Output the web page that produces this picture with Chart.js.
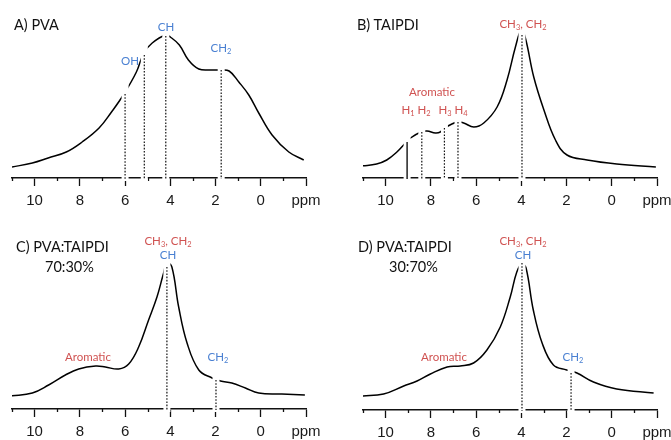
<!DOCTYPE html>
<html>
<head>
<meta charset="utf-8">
<script src="https://cdn.jsdelivr.net/npm/chart.js@4.4.1/dist/chart.umd.min.js"></script>
<style>
  html, body { margin: 0; padding: 0; background: #fff; }
  #wrap { position: relative; width: 671px; height: 440px; overflow: hidden; }
  .panel { position: absolute; }
  .lbl { position: absolute; font-family: Lato, "Open Sans", sans-serif; white-space: nowrap; transform: translate(-50%, -50%); line-height: 1; }
  .lbl sub { font-size: 65%; vertical-align: -0.25em; line-height: 0; }
  .ttl { position: absolute; font-family: Lato, "Open Sans", sans-serif; font-size: 14.5px; color: #111; white-space: nowrap; line-height: 1; }
  .blue { color: #4a80d2; font-size: 11.5px; }
  .red { color: #d05352; font-size: 11.5px; }
</style>
</head>
<body>
<div id="wrap">
  <div class="panel" style="left:0;top:0;width:335px;height:210px"><canvas id="chartA"></canvas></div>
  <div class="panel" style="left:335px;top:0;width:336px;height:210px"><canvas id="chartB"></canvas></div>
  <div class="panel" style="left:0;top:210px;width:335px;height:230px"><canvas id="chartC"></canvas></div>
  <div class="panel" style="left:335px;top:210px;width:336px;height:230px"><canvas id="chartD"></canvas></div>

  <div class="ttl" style="left:14px;top:18px">A) PVA</div>
  <div class="lbl blue" style="left:166px;top:27px">CH</div>
  <div class="lbl blue" style="left:130px;top:61px">OH</div>
  <div class="lbl blue" style="left:221px;top:48px">CH<sub>2</sub></div>

  <div class="ttl" style="left:357px;top:18px">B) TAIPDI</div>
  <div class="lbl red" style="left:523px;top:24px">CH<sub>3</sub>, CH<sub>2</sub></div>
  <div class="lbl red" style="left:432px;top:92px">Aromatic</div>
  <div class="lbl red" style="left:416px;top:110px">H<sub>1</sub> H<sub>2</sub></div>
  <div class="lbl red" style="left:453px;top:110px">H<sub>3</sub> H<sub>4</sub></div>

  <div class="ttl" style="left:16px;top:240px">C) PVA:TAIPDI</div>
  <div class="ttl" style="left:45px;top:260px">70:30%</div>
  <div class="lbl red" style="left:168px;top:241px">CH<sub>3</sub>, CH<sub>2</sub></div>
  <div class="lbl blue" style="left:168px;top:255px">CH</div>
  <div class="lbl red" style="left:88px;top:357px">Aromatic</div>
  <div class="lbl blue" style="left:218px;top:357px">CH<sub>2</sub></div>

  <div class="ttl" style="left:358px;top:240px">D) PVA:TAIPDI</div>
  <div class="ttl" style="left:389px;top:260px">30:70%</div>
  <div class="lbl red" style="left:523px;top:241px">CH<sub>3</sub>, CH<sub>2</sub></div>
  <div class="lbl blue" style="left:523px;top:255px">CH</div>
  <div class="lbl red" style="left:444px;top:357px">Aromatic</div>
  <div class="lbl blue" style="left:573px;top:357px">CH<sub>2</sub></div>
</div>
<script>
// chemical shift (ppm) and intensity
const ppmA = [11, 10.1, 9.4, 8.6, 7.9, 7.15, 6.6, 6.05, 5.5, 5.17, 4.8, 4.2, 4.0, 3.6, 3.2, 2.74, 2.2, 1.8, 1.4, 0.97, 0.53, 0.09, -0.5, -1.24, -1.9]
const intA = [11, 15, 20, 26, 36, 50, 66, 84, 106, 125, 135, 143, 141, 133, 118, 109, 108, 108, 107, 96, 83, 65, 43, 26, 18]

const ppmB = [11.05, 10.4, 9.95, 9.5, 9.08, 8.9, 8.44, 8.17, 7.8, 7.58, 7.4, 6.84, 6.55, 6.1, 5.66, 5.07, 4.63, 4.26, 4.0, 3.82, 3.45, 3.0, 2.49, 1.98, 1.09, -0.22, -1.95]
const intB = [12, 14, 18, 26, 36, 40, 46, 47, 45, 46, 50, 56, 55, 51, 55, 71, 98, 131, 148, 140, 101, 68, 38, 23, 18, 14, 11]

const ppmC = [11.05, 10.1, 9.38, 8.64, 8.05, 7.3, 6.87, 6.28, 5.84, 5.4, 4.96, 4.59, 4.32, 4.15, 3.93, 3.63, 3.26, 2.74, 2.15, 1.78, 1.28, 0.68, 0.09, -0.93, -1.95]
const intC = [13, 16, 24, 34, 40, 43, 42, 40, 45, 62, 89, 112, 134, 146, 142, 102, 66, 39, 31, 28, 26, 21, 16, 15, 14]

const ppmD = [11.05, 10.09, 9.2, 8.61, 8.02, 7.28, 6.7, 6.11, 5.52, 4.93, 4.49, 4.2, 3.97, 3.79, 3.47, 3.08, 2.58, 1.99, 1.54, 0.81, -0.22, -1.85]
const intD = [14, 16, 24, 29, 36, 43, 44, 47, 60, 83, 113, 138, 146, 142, 100, 67, 45, 40, 37, 28, 21, 17]

// assignment markers: position and top of each drop line
const markPpmA = [6.0, 5.15, 4.2, 1.75]
const markTopA = [84, 123, 142, 108]
const markPpmB = [9.05, 8.4, 7.4, 6.8, 3.97]
const markTopB = [36, 46, 50, 56, 143]
const markPpmC = [4.15, 1.98]
const markTopC = [142, 29]
const markPpmD = [3.97, 1.8]
const markTopD = [147, 37]

const tickFont = { family: '"Liberation Sans", Arial, sans-serif', size: 15 };

const markerPlugin = {
    id: 'markers',
    afterDatasetsDraw(chart) {
        const m = chart.options.plugins.markers;
        const ctx = chart.ctx, xs = chart.scales.x, ys = chart.scales.y;
        const area = chart.chartArea;
        // minor ticks
        ctx.save();
        ctx.strokeStyle = '#111';
        ctx.lineWidth = 1.3;
        for (let v = -1; v <= 11; v += 2) {
            const px = Math.round(xs.getPixelForValue(v)) + 0.5;
            ctx.beginPath();
            ctx.moveTo(px, area.bottom);
            ctx.lineTo(px, area.bottom + 3);
            ctx.stroke();
        }
        m.ppm.forEach(function(p, i) {
            const px = xs.getPixelForValue(p);
            ctx.fillStyle = '#fff';
            ctx.fillRect(px - 3.5, area.top - 30, 7, area.bottom - area.top + 33);
            ctx.beginPath();
            ctx.strokeStyle = '#111';
            ctx.lineWidth = (m.solid && m.solid[i]) ? 1.4 : 1.2;
            ctx.setLineDash((m.solid && m.solid[i]) ? [] : [1.6, 1.6]);
            ctx.moveTo(px, ys.getPixelForValue(m.top[i]));
            ctx.lineTo(px, area.bottom + 1);
            ctx.stroke();
        });
        ctx.restore();
    }
};

function makeChart(id, ppm, vals, mPpm, mTop, solid, pad, axisH) {
    const pts = ppm.map(function(p, i) { return { x: p, y: vals[i] }; });
    return new Chart(document.getElementById(id).getContext('2d'), {
        type: 'line',
        data: { datasets: [{ data: pts, borderColor: '#000', borderWidth: 1.5, pointRadius: 0, tension: 0.4, fill: false }] },
        options: {
            responsive: true,
            maintainAspectRatio: false,
            animation: false,
            layout: { padding: pad },
            plugins: { legend: { display: false }, tooltip: { enabled: false }, markers: { ppm: mPpm, top: mTop, solid: solid } },
            scales: {
                x: {
                    type: 'linear', reverse: true, min: -2, max: 11,
                    afterFit: function(s) { s.height = axisH; s.paddingLeft = 0; s.paddingRight = 0; },
                    border: { display: true, color: '#111', width: 1.5 },
                    grid: {
                        drawOnChartArea: false, tickLength: 8, tickWidth: 1.3,
                        color: function(c) { return (c.tick && c.tick.value % 2 === 0) ? '#111' : 'rgba(0,0,0,0)'; }
                    },
                    ticks: {
                        stepSize: 1, autoSkip: false, maxRotation: 0, padding: 6, color: '#1a1a1a', font: tickFont,
                        callback: function(v) { if (v === -2) return 'ppm'; return v % 2 === 0 ? String(v) : ''; }
                    }
                },
                y: { display: false, min: 0, max: 150 }
            }
        },
        plugins: [markerPlugin]
    });
}

var chartA = makeChart('chartA', ppmA, intA, markPpmA, markTopA, null, { left: 12, right: 29, top: 28, bottom: 0 }, 32);
var chartB = makeChart('chartB', ppmB, intB, markPpmB, markTopB, [true, false, false, false, false], { left: 28, right: 14, top: 28, bottom: 0 }, 32);
var chartC = makeChart('chartC', ppmC, intC, markPpmC, markTopC, null, { left: 12, right: 29, top: 49, bottom: 0 }, 31);
var chartD = makeChart('chartD', ppmD, intD, markPpmD, markTopD, null, { left: 28, right: 14, top: 50, bottom: 0 }, 30);
</script>
</body>
</html>
